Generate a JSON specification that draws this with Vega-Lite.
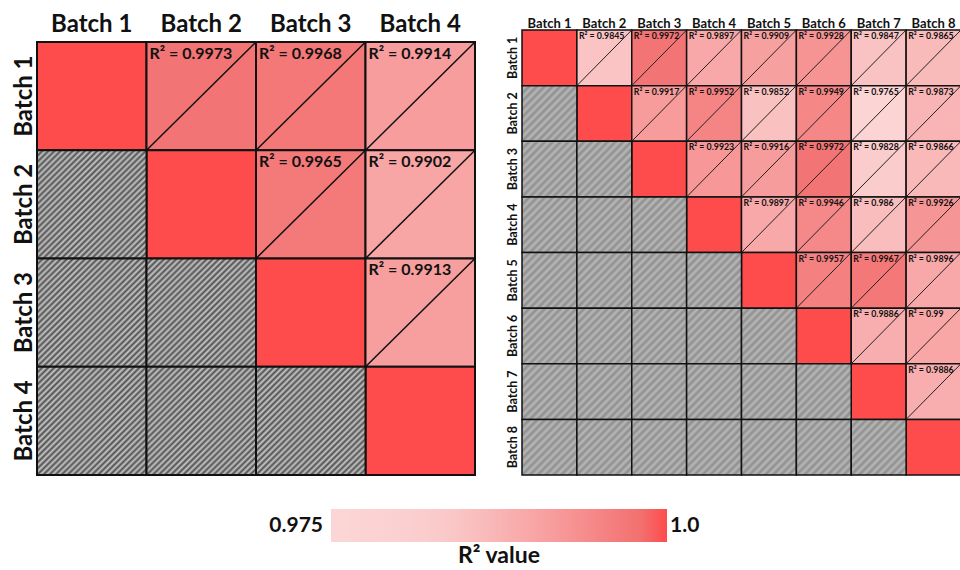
{
  "$schema": "https://vega.github.io/schema/vega-lite/v6.json",
  "padding": {"left": 11, "top": 12, "right": 0, "bottom": 0},
  "background": "white",
  "config": {
    "view": {"stroke": null},
    "font": "Lato",
    "axis": {"domain": false, "ticks": false, "grid": false, "labelFont": "Lato", "labelFontWeight": "bold", "labelColor": "#111111", "titleFont": "Lato", "titleColor": "#111111"}
  },
  "datasets": {
    "left": [
      {"r": "Batch 1", "c": "Batch 1", "k": "d", "v": 1},
      {"r": "Batch 1", "c": "Batch 2", "k": "u", "v": 0.9973},
      {"r": "Batch 1", "c": "Batch 3", "k": "u", "v": 0.9968},
      {"r": "Batch 1", "c": "Batch 4", "k": "u", "v": 0.9914},
      {"r": "Batch 2", "c": "Batch 1", "k": "l"},
      {"r": "Batch 2", "c": "Batch 2", "k": "d", "v": 1},
      {"r": "Batch 2", "c": "Batch 3", "k": "u", "v": 0.9965},
      {"r": "Batch 2", "c": "Batch 4", "k": "u", "v": 0.9902},
      {"r": "Batch 3", "c": "Batch 1", "k": "l"},
      {"r": "Batch 3", "c": "Batch 2", "k": "l"},
      {"r": "Batch 3", "c": "Batch 3", "k": "d", "v": 1},
      {"r": "Batch 3", "c": "Batch 4", "k": "u", "v": 0.9913},
      {"r": "Batch 4", "c": "Batch 1", "k": "l"},
      {"r": "Batch 4", "c": "Batch 2", "k": "l"},
      {"r": "Batch 4", "c": "Batch 3", "k": "l"},
      {"r": "Batch 4", "c": "Batch 4", "k": "d", "v": 1}
    ],
    "right": [
      {"r": "Batch 1", "c": "Batch 1", "k": "d", "v": 1},
      {"r": "Batch 1", "c": "Batch 2", "k": "u", "v": 0.9845},
      {"r": "Batch 1", "c": "Batch 3", "k": "u", "v": 0.9972},
      {"r": "Batch 1", "c": "Batch 4", "k": "u", "v": 0.9897},
      {"r": "Batch 1", "c": "Batch 5", "k": "u", "v": 0.9909},
      {"r": "Batch 1", "c": "Batch 6", "k": "u", "v": 0.9928},
      {"r": "Batch 1", "c": "Batch 7", "k": "u", "v": 0.9847},
      {"r": "Batch 1", "c": "Batch 8", "k": "u", "v": 0.9865},
      {"r": "Batch 2", "c": "Batch 1", "k": "l"},
      {"r": "Batch 2", "c": "Batch 2", "k": "d", "v": 1},
      {"r": "Batch 2", "c": "Batch 3", "k": "u", "v": 0.9917},
      {"r": "Batch 2", "c": "Batch 4", "k": "u", "v": 0.9952},
      {"r": "Batch 2", "c": "Batch 5", "k": "u", "v": 0.9852},
      {"r": "Batch 2", "c": "Batch 6", "k": "u", "v": 0.9949},
      {"r": "Batch 2", "c": "Batch 7", "k": "u", "v": 0.9765},
      {"r": "Batch 2", "c": "Batch 8", "k": "u", "v": 0.9873},
      {"r": "Batch 3", "c": "Batch 1", "k": "l"},
      {"r": "Batch 3", "c": "Batch 2", "k": "l"},
      {"r": "Batch 3", "c": "Batch 3", "k": "d", "v": 1},
      {"r": "Batch 3", "c": "Batch 4", "k": "u", "v": 0.9923},
      {"r": "Batch 3", "c": "Batch 5", "k": "u", "v": 0.9916},
      {"r": "Batch 3", "c": "Batch 6", "k": "u", "v": 0.9972},
      {"r": "Batch 3", "c": "Batch 7", "k": "u", "v": 0.9828},
      {"r": "Batch 3", "c": "Batch 8", "k": "u", "v": 0.9866},
      {"r": "Batch 4", "c": "Batch 1", "k": "l"},
      {"r": "Batch 4", "c": "Batch 2", "k": "l"},
      {"r": "Batch 4", "c": "Batch 3", "k": "l"},
      {"r": "Batch 4", "c": "Batch 4", "k": "d", "v": 1},
      {"r": "Batch 4", "c": "Batch 5", "k": "u", "v": 0.9897},
      {"r": "Batch 4", "c": "Batch 6", "k": "u", "v": 0.9946},
      {"r": "Batch 4", "c": "Batch 7", "k": "u", "v": 0.986},
      {"r": "Batch 4", "c": "Batch 8", "k": "u", "v": 0.9926},
      {"r": "Batch 5", "c": "Batch 1", "k": "l"},
      {"r": "Batch 5", "c": "Batch 2", "k": "l"},
      {"r": "Batch 5", "c": "Batch 3", "k": "l"},
      {"r": "Batch 5", "c": "Batch 4", "k": "l"},
      {"r": "Batch 5", "c": "Batch 5", "k": "d", "v": 1},
      {"r": "Batch 5", "c": "Batch 6", "k": "u", "v": 0.9957},
      {"r": "Batch 5", "c": "Batch 7", "k": "u", "v": 0.9967},
      {"r": "Batch 5", "c": "Batch 8", "k": "u", "v": 0.9896},
      {"r": "Batch 6", "c": "Batch 1", "k": "l"},
      {"r": "Batch 6", "c": "Batch 2", "k": "l"},
      {"r": "Batch 6", "c": "Batch 3", "k": "l"},
      {"r": "Batch 6", "c": "Batch 4", "k": "l"},
      {"r": "Batch 6", "c": "Batch 5", "k": "l"},
      {"r": "Batch 6", "c": "Batch 6", "k": "d", "v": 1},
      {"r": "Batch 6", "c": "Batch 7", "k": "u", "v": 0.9886},
      {"r": "Batch 6", "c": "Batch 8", "k": "u", "v": 0.99},
      {"r": "Batch 7", "c": "Batch 1", "k": "l"},
      {"r": "Batch 7", "c": "Batch 2", "k": "l"},
      {"r": "Batch 7", "c": "Batch 3", "k": "l"},
      {"r": "Batch 7", "c": "Batch 4", "k": "l"},
      {"r": "Batch 7", "c": "Batch 5", "k": "l"},
      {"r": "Batch 7", "c": "Batch 6", "k": "l"},
      {"r": "Batch 7", "c": "Batch 7", "k": "d", "v": 1},
      {"r": "Batch 7", "c": "Batch 8", "k": "u", "v": 0.9886},
      {"r": "Batch 8", "c": "Batch 1", "k": "l"},
      {"r": "Batch 8", "c": "Batch 2", "k": "l"},
      {"r": "Batch 8", "c": "Batch 3", "k": "l"},
      {"r": "Batch 8", "c": "Batch 4", "k": "l"},
      {"r": "Batch 8", "c": "Batch 5", "k": "l"},
      {"r": "Batch 8", "c": "Batch 6", "k": "l"},
      {"r": "Batch 8", "c": "Batch 7", "k": "l"},
      {"r": "Batch 8", "c": "Batch 8", "k": "d", "v": 1}
    ]
  },
  "spacing": 29,
  "hconcat": [
    {
      "width": 438,
      "height": 445,
      "data": {"name": "left"},
      "encoding": {
        "x": {"field": "c", "type": "ordinal", "title": null, "scale": {"paddingInner": 0, "paddingOuter": 0}, "axis": {"orient": "top", "labelAngle": 0, "labelFontSize": 24, "labelPadding": -1, "labelBaseline": "alphabetic"}},
        "y": {"field": "r", "type": "ordinal", "title": null, "scale": {"paddingInner": 0, "paddingOuter": 0.0554, "align": 1}, "axis": {"labelAngle": -90, "labelAlign": "center", "labelBaseline": "alphabetic", "labelFontSize": 24, "labelPadding": 6}}
      },
      "layer": [
        {
          "transform": [{"filter": "datum.k !== 'l'"}],
          "mark": {"type": "rect", "stroke": "#111111", "strokeWidth": 2},
          "encoding": {"color": {"field": "v", "type": "quantitative",
            "scale": {"domain": [0.975, 0.983, 0.9865, 0.99, 0.995, 0.9975, 0.9992, 1.0], "range": ["#fcd6d6", "#fbcccc", "#f9baba", "#f8a6a6", "#f58686", "#f37272", "#f26a6a", "#fe4c4c"], "interpolate": "rgb"},
            "legend": {
              "orient": "none", "legendX": 294, "legendY": 479, "direction": "horizontal",
              "gradientLength": 336, "gradientThickness": 33, "gradientStrokeWidth": 0,
              "values": [0.975, 1.0],
              "labelExpr": "datum.value >= 1 ? '1.0' : '0.975'",
              "labelFont": "Lato", "labelFontSize": 21, "labelFontWeight": "bold", "labelColor": "#111111",
              "labelOffset": -16.5, "labelOverlap": false,
              "title": "R² value", "titleOrient": "bottom", "titleAnchor": "middle", "titleFont": "Lato", "titleFontSize": 23, "titleFontWeight": "bold", "titleColor": "#111111", "titlePadding": 3,
              "encode": {"labels": {"update": {"align": {"signal": "datum.value >= 1 ? 'left' : 'right'"}, "baseline": {"value": "middle"}, "dx": {"signal": "datum.value >= 1 ? 3 : -8"}}}}
            }}}
        },
        {
          "transform": [{"filter": "datum.k === 'l'"}],
          "mark": {"type": "rect", "stroke": "#111111", "strokeWidth": 2, "fill": {"gradient": "linear", "x1": 0, "y1": 0, "x2": 1, "y2": 1, "stops": [
            {"offset": 0, "color": "#505050"}, {"offset": 0.0139, "color": "#c6c6c6"}, {"offset": 0.0278, "color": "#505050"}, {"offset": 0.0417, "color": "#c6c6c6"}, {"offset": 0.0556, "color": "#505050"}, {"offset": 0.0694, "color": "#c6c6c6"}, {"offset": 0.0833, "color": "#505050"}, {"offset": 0.0972, "color": "#c6c6c6"}, {"offset": 0.1111, "color": "#505050"}, {"offset": 0.125, "color": "#c6c6c6"}, {"offset": 0.1389, "color": "#505050"}, {"offset": 0.1528, "color": "#c6c6c6"}, {"offset": 0.1667, "color": "#505050"}, {"offset": 0.1806, "color": "#c6c6c6"}, {"offset": 0.1944, "color": "#505050"}, {"offset": 0.2083, "color": "#c6c6c6"}, {"offset": 0.2222, "color": "#505050"}, {"offset": 0.2361, "color": "#c6c6c6"}, {"offset": 0.25, "color": "#505050"}, {"offset": 0.2639, "color": "#c6c6c6"}, {"offset": 0.2778, "color": "#505050"}, {"offset": 0.2917, "color": "#c6c6c6"}, {"offset": 0.3056, "color": "#505050"}, {"offset": 0.3194, "color": "#c6c6c6"}, {"offset": 0.3333, "color": "#505050"}, {"offset": 0.3472, "color": "#c6c6c6"}, {"offset": 0.3611, "color": "#505050"}, {"offset": 0.375, "color": "#c6c6c6"}, {"offset": 0.3889, "color": "#505050"}, {"offset": 0.4028, "color": "#c6c6c6"}, {"offset": 0.4167, "color": "#505050"}, {"offset": 0.4306, "color": "#c6c6c6"}, {"offset": 0.4444, "color": "#505050"}, {"offset": 0.4583, "color": "#c6c6c6"}, {"offset": 0.4722, "color": "#505050"}, {"offset": 0.4861, "color": "#c6c6c6"}, {"offset": 0.5, "color": "#505050"}, {"offset": 0.5139, "color": "#c6c6c6"}, {"offset": 0.5278, "color": "#505050"}, {"offset": 0.5417, "color": "#c6c6c6"}, {"offset": 0.5556, "color": "#505050"}, {"offset": 0.5694, "color": "#c6c6c6"}, {"offset": 0.5833, "color": "#505050"}, {"offset": 0.5972, "color": "#c6c6c6"}, {"offset": 0.6111, "color": "#505050"}, {"offset": 0.625, "color": "#c6c6c6"}, {"offset": 0.6389, "color": "#505050"}, {"offset": 0.6528, "color": "#c6c6c6"}, {"offset": 0.6667, "color": "#505050"}, {"offset": 0.6806, "color": "#c6c6c6"}, {"offset": 0.6944, "color": "#505050"}, {"offset": 0.7083, "color": "#c6c6c6"}, {"offset": 0.7222, "color": "#505050"}, {"offset": 0.7361, "color": "#c6c6c6"}, {"offset": 0.75, "color": "#505050"}, {"offset": 0.7639, "color": "#c6c6c6"}, {"offset": 0.7778, "color": "#505050"}, {"offset": 0.7917, "color": "#c6c6c6"}, {"offset": 0.8056, "color": "#505050"}, {"offset": 0.8194, "color": "#c6c6c6"}, {"offset": 0.8333, "color": "#505050"}, {"offset": 0.8472, "color": "#c6c6c6"}, {"offset": 0.8611, "color": "#505050"}, {"offset": 0.875, "color": "#c6c6c6"}, {"offset": 0.8889, "color": "#505050"}, {"offset": 0.9028, "color": "#c6c6c6"}, {"offset": 0.9167, "color": "#505050"}, {"offset": 0.9306, "color": "#c6c6c6"}, {"offset": 0.9444, "color": "#505050"}, {"offset": 0.9583, "color": "#c6c6c6"}, {"offset": 0.9722, "color": "#505050"}, {"offset": 0.9861, "color": "#c6c6c6"}, {"offset": 1, "color": "#505050"}
          ]}}
        },
        {
          "transform": [{"filter": "datum.k === 'u'"}],
          "mark": {"type": "rule", "color": "#111111", "strokeWidth": 1.5},
          "encoding": {
            "x": {"field": "c", "type": "ordinal", "bandPosition": 0, "title": null},
            "x2": {"field": "c", "bandPosition": 1},
            "y": {"field": "r", "type": "ordinal", "bandPosition": 1, "title": null},
            "y2": {"field": "r", "bandPosition": 0}
          }
        },
        {
          "transform": [{"filter": "datum.k === 'u'"}, {"calculate": "'R² = ' + datum.v", "as": "lab"}],
          "mark": {"type": "text", "align": "left", "baseline": "top", "dx": 3, "dy": 4, "fontSize": 16, "fontWeight": "bold", "font": "Lato", "color": "#111111"},
          "encoding": {
            "x": {"field": "c", "type": "ordinal", "bandPosition": 0, "title": null},
            "y": {"field": "r", "type": "ordinal", "bandPosition": 0, "title": null},
            "text": {"field": "lab"}
          }
        }
      ]
    },
    {
      "width": 439,
      "height": 445,
      "data": {"name": "right"},
      "encoding": {
        "x": {"field": "c", "type": "ordinal", "title": null, "scale": {"paddingInner": 0, "paddingOuter": 0}, "axis": {"orient": "top", "labelAngle": 0, "labelFontSize": 13, "labelPadding": 3, "labelBaseline": "alphabetic"}},
        "y": {"field": "r", "type": "ordinal", "title": null, "scale": {"paddingInner": 0, "paddingOuter": 0}, "axis": {"labelAngle": -90, "labelAlign": "center", "labelBaseline": "alphabetic", "labelFontSize": 12.5, "labelPadding": 6}}
      },
      "layer": [
        {
          "transform": [{"filter": "datum.k !== 'l'"}],
          "mark": {"type": "rect", "stroke": "#111111", "strokeWidth": 1.5},
          "encoding": {"color": {"field": "v", "type": "quantitative", "legend": null, "scale": {"domain": [0.975, 0.983, 0.9865, 0.99, 0.995, 0.9975, 0.9992, 1.0], "range": ["#fcd6d6", "#fbcccc", "#f9baba", "#f8a6a6", "#f58686", "#f37272", "#f26a6a", "#fe4c4c"], "interpolate": "rgb"}}}
        },
        {
          "transform": [{"filter": "datum.k === 'l'"}],
          "mark": {"type": "rect", "stroke": "#111111", "strokeWidth": 1.5, "fill": {"gradient": "linear", "x1": 0, "y1": 0, "x2": 1, "y2": 1, "stops": [
            {"offset": 0, "color": "#8e8e8e"}, {"offset": 0.0357, "color": "#b8b8b8"}, {"offset": 0.0714, "color": "#8e8e8e"}, {"offset": 0.1071, "color": "#b8b8b8"}, {"offset": 0.1429, "color": "#8e8e8e"}, {"offset": 0.1786, "color": "#b8b8b8"}, {"offset": 0.2143, "color": "#8e8e8e"}, {"offset": 0.25, "color": "#b8b8b8"}, {"offset": 0.2857, "color": "#8e8e8e"}, {"offset": 0.3214, "color": "#b8b8b8"}, {"offset": 0.3571, "color": "#8e8e8e"}, {"offset": 0.3929, "color": "#b8b8b8"}, {"offset": 0.4286, "color": "#8e8e8e"}, {"offset": 0.4643, "color": "#b8b8b8"}, {"offset": 0.5, "color": "#8e8e8e"}, {"offset": 0.5357, "color": "#b8b8b8"}, {"offset": 0.5714, "color": "#8e8e8e"}, {"offset": 0.6071, "color": "#b8b8b8"}, {"offset": 0.6429, "color": "#8e8e8e"}, {"offset": 0.6786, "color": "#b8b8b8"}, {"offset": 0.7143, "color": "#8e8e8e"}, {"offset": 0.75, "color": "#b8b8b8"}, {"offset": 0.7857, "color": "#8e8e8e"}, {"offset": 0.8214, "color": "#b8b8b8"}, {"offset": 0.8571, "color": "#8e8e8e"}, {"offset": 0.8929, "color": "#b8b8b8"}, {"offset": 0.9286, "color": "#8e8e8e"}, {"offset": 0.9643, "color": "#b8b8b8"}, {"offset": 1, "color": "#8e8e8e"}
          ]}}
        },
        {
          "transform": [{"filter": "datum.k === 'u'"}],
          "mark": {"type": "rule", "color": "#222222", "strokeWidth": 1},
          "encoding": {
            "x": {"field": "c", "type": "ordinal", "bandPosition": 0, "title": null},
            "x2": {"field": "c", "bandPosition": 1},
            "y": {"field": "r", "type": "ordinal", "bandPosition": 1, "title": null},
            "y2": {"field": "r", "bandPosition": 0}
          }
        },
        {
          "transform": [{"filter": "datum.k === 'u'"}, {"calculate": "'R² = ' + datum.v", "as": "lab"}],
          "mark": {"type": "text", "align": "left", "baseline": "top", "dx": 2, "dy": 2, "fontSize": 8.8, "fontWeight": "bold", "font": "Lato", "color": "#111111"},
          "encoding": {
            "x": {"field": "c", "type": "ordinal", "bandPosition": 0, "title": null},
            "y": {"field": "r", "type": "ordinal", "bandPosition": 0, "title": null},
            "text": {"field": "lab"}
          }
        }
      ]
    }
  ]
}
